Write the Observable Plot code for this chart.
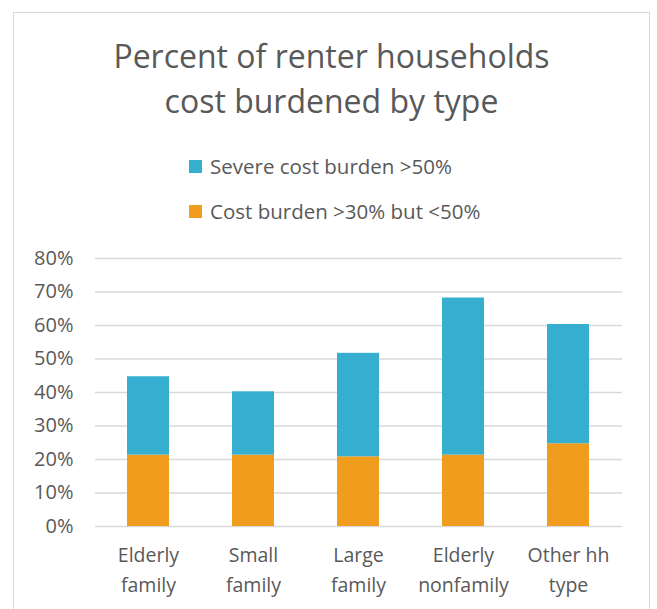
<!DOCTYPE html>
<html>
<head>
<meta charset="utf-8">
<script src="https://cdn.jsdelivr.net/npm/d3@7"></script>
<script src="https://cdn.jsdelivr.net/npm/@observablehq/plot@0.6"></script>
<style>
  html, body { margin: 0; padding: 0; background: #fff; }
  body { width: 657px; height: 609px; position: relative; overflow: hidden; font-family: "Open Sans", sans-serif; color: #595959; }
  #frame { position: absolute; left: 13px; top: 12px; width: 637px; height: 620px; border: 1px solid #d9d9d9; box-sizing: border-box; z-index: 2; pointer-events: none; }
  #title { position: absolute; left: 13px; width: 637px; top: 33px; text-align: center; font-size: 32px; line-height: 45px; color: #595959; }
  .leg { position: absolute; left: 189px; font-size: 20.5px; line-height: 26px; display: flex; align-items: center; white-space: nowrap; }
  .sw { width: 13px; height: 13px; margin-right: 8px; }
  #chart { position: absolute; left: 0; top: 240px; }
</style>
</head>
<body>
<div id="frame"></div>
<div id="title">Percent of renter households<br>cost burdened by type</div>
<div id="leg1" class="leg" style="top:153px"><span class="sw" style="background:#36aed0"></span>Severe cost burden &gt;50%</div>
<div id="leg2" class="leg" style="top:198px"><span class="sw" style="background:#f09d1e"></span>Cost burden &gt;30% but &lt;50%</div>
<div id="chart"></div>
<script>
const categories = ["Elderly family", "Small family", "Large family", "Elderly nonfamily", "Other hh type"];
const tickLabels = ["Elderly\nfamily", "Small\nfamily", "Large\nfamily", "Elderly\nnonfamily", "Other hh\ntype"];
const costBurden = [21.3, 21.3, 20.8, 21.3, 24.7];
const severe = [23.4, 18.9, 30.9, 46.9, 35.6];
const seriesNames = ["Cost burden >30% but <50%", "Severe cost burden >50%"];
const seriesColors = ["#f09d1e", "#36aed0"];
const yTicks = [0, 0.1, 0.2, 0.3, 0.4, 0.5, 0.6, 0.7, 0.8];

const data = [];
categories.forEach((c, i) => {
  data.push({cat: c, series: seriesNames[0], value: costBurden[i] / 100});
  data.push({cat: c, series: seriesNames[1], value: severe[i] / 100});
});

const chart = Plot.plot({
  width: 657,
  height: 369,
  marginLeft: 95,
  marginRight: 35,
  marginTop: 18,
  marginBottom: 83,
  style: {fontFamily: "'Open Sans', sans-serif", fontSize: "19px", color: "#595959", background: "none"},
  x: {domain: categories, paddingInner: 0.6, paddingOuter: 0.3, label: null},
  y: {domain: [0, 0.8], label: null},
  color: {domain: seriesNames, range: seriesColors},
  marks: [
    Plot.gridY(yTicks, {stroke: "#d9d9d9", strokeOpacity: 1, strokeWidth: 1.5}),
    Plot.barY(data, {x: "cat", y: "value", fill: "series", order: seriesNames}),
    Plot.axisY(yTicks, {tickSize: 0, tickPadding: 22, tickFormat: d3.format(".0%"), fill: "#595959", fontSize: 20, label: null}),
    Plot.axisX({tickSize: 0, tickPadding: 14, tickFormat: (d) => tickLabels[categories.indexOf(d)], fill: "#595959", fontSize: 19.5, lineHeight: 1.55, label: null})
  ]
});
document.getElementById("chart").appendChild(chart);
</script>
</body>
</html>
